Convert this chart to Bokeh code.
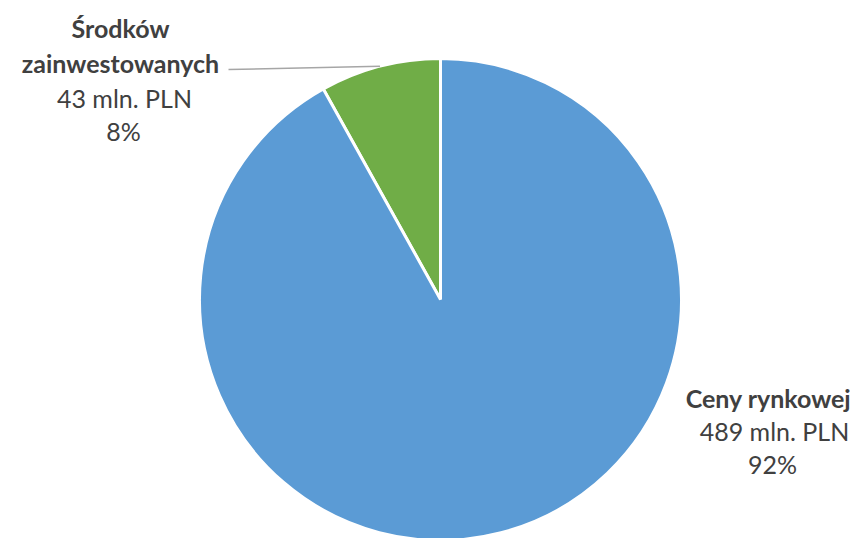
import math
from bokeh.plotting import figure
from bokeh.models import Range1d, ColumnDataSource
from bokeh.core.properties import value
from bokeh.embed import file_html
from bokeh.resources import INLINE

# Data
categories = ["Środków zainwestowanych", "Ceny rynkowej"]
values_mln = [43, 489]
percent_labels = ["8%", "92%"]
colors = ["#70AD47", "#5B9BD5"]

W, H = 858, 538
cx, cy, r = 440, 299, 241

total = sum(values_mln)
starts, ends = [], []
a = math.pi / 2
for v in values_mln:
    starts.append(a)
    a += v / total * 2 * math.pi
    ends.append(a)

p = figure(width=W, height=H, output_backend="svg", toolbar_location=None,
           x_range=Range1d(0, W), y_range=Range1d(H, 0), min_border=0)
p.axis.visible = False
p.grid.visible = False
p.outline_line_color = None
p.background_fill_color = "white"

src = ColumnDataSource(dict(x=[cx] * 2, y=[cy] * 2,
                            start=starts, end=ends, color=colors))
p.wedge(x="x", y="y", radius=r, start_angle="start", end_angle="end",
        fill_color="color", line_color="white", line_width=3, source=src)

# leader line to mid of green slice
mid = (starts[0] + ends[0]) / 2
ex = cx + r * math.cos(mid)
ey = cy - r * math.sin(mid)
p.line(x=[228, ex], y=[69, ey], line_color="#A6A6A6", line_width=1.5)

font = value("Lato")
tc = "#404040"
fs = "25px"
# Green label
p.text(x=[120], y=[27], text=["Środków"], text_font=font, text_font_style="bold",
       text_font_size=fs, text_color=tc, text_align="center", text_baseline="middle")
p.text(x=[120], y=[62], text=["zainwestowanych"], text_font=font, text_font_style="bold",
       text_font_size=fs, text_color=tc, text_align="center", text_baseline="middle")
p.text(x=[124, 123], y=[97, 130], text=[f"{values_mln[0]} mln. PLN", percent_labels[0]],
       text_font=font, text_font_size=fs, text_color=tc, text_align="center", text_baseline="middle")
# Blue label
p.text(x=[768], y=[397], text=["Ceny rynkowej"], text_font=font, text_font_style="bold",
       text_font_size=fs, text_color=tc, text_align="center", text_baseline="middle")
p.text(x=[774, 772], y=[430, 463], text=[f"{values_mln[1]} mln. PLN", percent_labels[1]],
       text_font=font, text_font_size=fs, text_color=tc, text_align="center", text_baseline="middle")

open("out.html", "w").write(file_html(p, INLINE))
